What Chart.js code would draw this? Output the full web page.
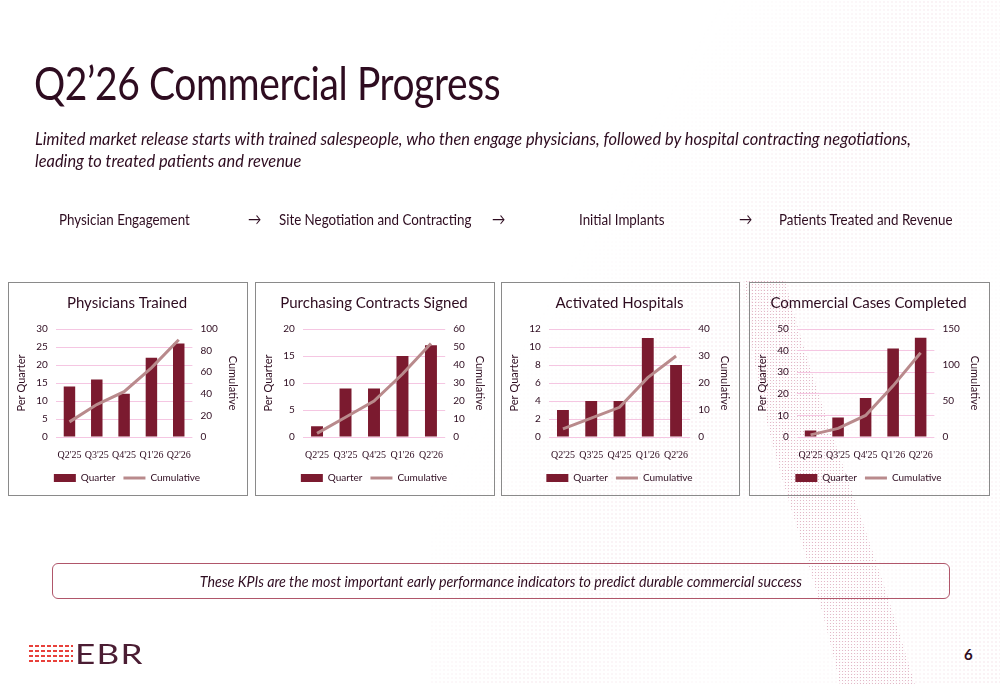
<!DOCTYPE html>
<html>
<head>
<meta charset="utf-8">
<script src="https://cdn.jsdelivr.net/npm/chart.js@4/dist/chart.umd.min.js"></script>
<style>
  html, body { margin: 0; padding: 0; }
  body { width: 1000px; height: 685px; position: relative; overflow: hidden; background: #fff; font-family: Lato, "Open Sans", sans-serif; color: #2e0c20; }
  .dots { position: absolute; left: 430px; top: 0; width: 570px; height: 685px;
    background-image: radial-gradient(circle, rgba(205,120,150,0.4) 0.6px, transparent 1px);
    background-size: 4px 4px;
    -webkit-mask-image: linear-gradient(120deg, transparent 30%, rgba(0,0,0,0.3) 52%, rgba(0,0,0,0.05) 75%, rgba(0,0,0,0.35) 100%);
    mask-image: linear-gradient(120deg, transparent 30%, rgba(0,0,0,0.3) 52%, rgba(0,0,0,0.05) 75%, rgba(0,0,0,0.35) 100%); }
  .band { position: absolute; left: 700px; top: 280px; width: 300px; height: 405px; opacity: 0.55; }
  .abs { position: absolute; white-space: nowrap; }
  h1 { position: absolute; left: 34px; top: 54px; margin: 0; font-weight: 400; font-size: 47px; letter-spacing: -0.5px; transform-origin: left top; transform: scaleX(0.83); }
  .sub { left: 35px; top: 128px; font-style: italic; font-size: 17px; line-height: 22px; transform-origin: left top; transform: scaleX(0.965); }
  .step { top: 209px; font-size: 16px; transform-origin: left top; transform: scaleX(0.835); }
  .box { position: absolute; top: 282px; height: 212px; border: 1px solid #8a8a8a; }
  .box canvas { width: 100%; height: 100%; }
  .note { position: absolute; left: 52px; top: 563px; width: 896px; height: 34px; border: 1px solid #b0566a; border-radius: 6px; text-align: center; line-height: 34px; font-style: italic; font-size: 15px; }
  .note span { display: inline-block; transform: scaleX(0.95); }
  .logo { position: absolute; left: 29px; top: 645px; width: 44px; height: 17px;
    background-image: repeating-linear-gradient(90deg, #e8413b 0 4px, transparent 4px 6px);
    -webkit-mask-image: repeating-linear-gradient(180deg, #000 0 2px, transparent 2px 5px);
    mask-image: repeating-linear-gradient(180deg, #000 0 2px, transparent 2px 5px); }
  .ebr { left: 75px; top: 637px; font-size: 27px; font-weight: 400; letter-spacing: 1px; color: #4b1d33; transform-origin: left top; transform: scaleX(1.3); }
  .page { left: 964px; top: 645px; font-size: 15px; font-weight: 700; }
</style>
</head>
<body>
<div class="dots"></div>
<svg class="band" viewBox="0 0 300 405">
  <defs>
    <pattern id="dp" width="3" height="3" patternUnits="userSpaceOnUse">
      <circle cx="1.5" cy="1.5" r="0.6" fill="#c46a8a"/>
    </pattern>
  </defs>
  <path d="M45 0 C 55 160, 110 260, 140 405 L 215 405 C 170 250, 115 120, 85 0 Z" fill="url(#dp)"/>
</svg>
<h1>Q2’26 Commercial Progress</h1>
<div class="abs sub">Limited market release starts with trained salespeople, who then engage physicians, followed by hospital contracting negotiations,<br>leading to treated patients and revenue</div>

<div class="abs step" style="left:59px">Physician Engagement</div>
<div class="abs step" style="left:248px">→</div>
<div class="abs step" style="left:279px">Site Negotiation and Contracting</div>
<div class="abs step" style="left:492px">→</div>
<div class="abs step" style="left:579px">Initial Implants</div>
<div class="abs step" style="left:739px">→</div>
<div class="abs step" style="left:779px">Patients Treated and Revenue</div>

<div class="box" style="left:8px;width:238px"><canvas id="chart1"></canvas></div>
<div class="box" style="left:255px;width:238px"><canvas id="chart2"></canvas></div>
<div class="box" style="left:501px;width:237px"><canvas id="chart3"></canvas></div>
<div class="box" style="left:749px;width:239px"><canvas id="chart4"></canvas></div>

<div class="note"><span>These KPIs are the most important early performance indicators to predict durable commercial success</span></div>

<div class="logo"></div>
<div class="abs ebr">EBR</div>
<div class="abs page">6</div>

<script>
const quarters = ["Q2'25", "Q3'25", "Q4'25", "Q1'26", "Q2'26"]

const physiciansQuarter = [14, 16, 12, 22, 26]
const physiciansCumulative = [14, 30, 42, 64, 90]

const contractsQuarter = [2, 9, 9, 15, 17]
const contractsCumulative = [2, 11, 20, 35, 52]

const hospitalsQuarter = [3, 4, 4, 11, 8]
const hospitalsCumulative = [3, 7, 11, 22, 30]

const casesQuarter = [3, 9, 18, 41, 46]
const casesCumulative = [3, 12, 30, 71, 117]

const barColor = '#7b1a2f'
const lineColor = '#b98a8c'
const textColor = '#2e0c20'
const gridColor = '#f5c6e2'

function makeChart(id, title, quarterData, cumulativeData, leftMax, leftStep, rightMax, rightStep) {
  const ctx = document.getElementById(id).getContext('2d')
  return new Chart(ctx, {
    data: {
      labels: quarters,
      datasets: [
        {
          type: 'bar',
          label: 'Quarter',
          data: quarterData,
          backgroundColor: barColor,
          yAxisID: 'y',
          order: 1,
          barPercentage: 0.42,
          categoryPercentage: 1,
        },
        {
          type: 'line',
          label: 'Cumulative',
          data: cumulativeData,
          borderColor: lineColor,
          backgroundColor: lineColor,
          borderWidth: 3,
          pointRadius: 0,
          tension: 0,
          yAxisID: 'y1',
          order: 0,
        },
      ],
    },
    options: {
      responsive: true,
      maintainAspectRatio: false,
      animation: false,
      layout: { padding: { left: 6, right: 8, top: 0, bottom: 2 } },
      plugins: {
        tooltip: { enabled: false },
        title: {
          display: true,
          text: title,
          color: textColor,
          font: { family: 'Lato', size: 15, weight: 'normal' },
          padding: { top: 11, bottom: 17 },
        },
        legend: {
          position: 'bottom',
          labels: {
            color: textColor,
            font: { family: 'Lato', size: 10 },
            usePointStyle: true,
            pointStyleWidth: 22,
            boxHeight: 8,
            padding: 8,
            sort: (a, b) => a.datasetIndex - b.datasetIndex,
            generateLabels: (chart) => chart.data.datasets.map((ds, i) => ({
              text: ds.label,
              fillStyle: ds.type === 'bar' ? barColor : lineColor,
              strokeStyle: ds.type === 'bar' ? barColor : lineColor,
              lineWidth: ds.type === 'bar' ? 0 : 3,
              pointStyle: ds.type === 'bar' ? 'rect' : 'line',
              fontColor: textColor,
              datasetIndex: i,
            })),
          },
        },
      },
      scales: {
        x: {
          grid: { display: false },
          border: { display: false },
          ticks: { color: textColor, font: { family: 'Liberation Sans Narrow', size: 10 }, maxRotation: 0, autoSkip: false, padding: 4 },
        },
        y: {
          position: 'left',
          min: 0,
          max: leftMax,
          ticks: { stepSize: leftStep, color: textColor, font: { family: 'Lato', size: 10 }, padding: 8 },
          grid: { color: gridColor, drawTicks: false },
          border: { display: false },
          title: { display: true, text: 'Per Quarter', color: textColor, font: { family: 'Lato', size: 11 }, padding: 0 },
        },
        y1: {
          position: 'right',
          min: 0,
          max: rightMax,
          ticks: { stepSize: rightStep, color: textColor, font: { family: 'Lato', size: 10 }, padding: 8 },
          grid: { drawOnChartArea: false, drawTicks: false },
          border: { display: false },
          title: { display: true, text: 'Cumulative', color: textColor, font: { family: 'Lato', size: 11 }, padding: 0 },
        },
      },
    },
  })
}

makeChart('chart1', 'Physicians Trained', physiciansQuarter, physiciansCumulative, 30, 5, 100, 20)
makeChart('chart2', 'Purchasing Contracts Signed', contractsQuarter, contractsCumulative, 20, 5, 60, 10)
makeChart('chart3', 'Activated Hospitals', hospitalsQuarter, hospitalsCumulative, 12, 2, 40, 10)
makeChart('chart4', 'Commercial Cases Completed', casesQuarter, casesCumulative, 50, 10, 150, 50)
</script>
</body>
</html>
